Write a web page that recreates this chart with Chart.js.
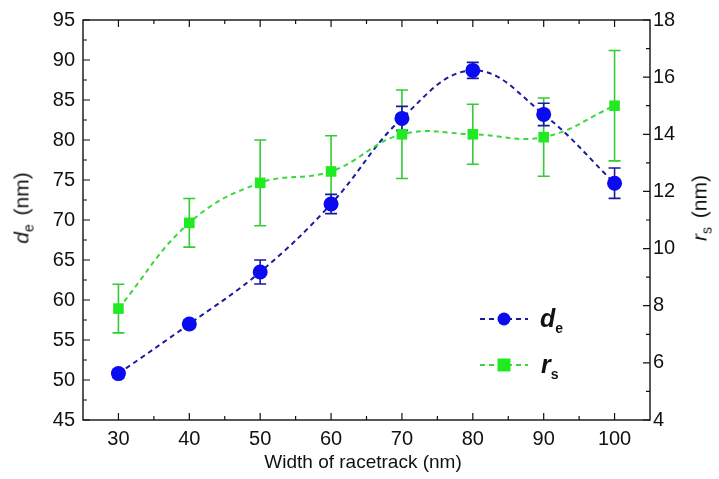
<!DOCTYPE html>
<html>
<head>
<meta charset="utf-8">
<script src="https://cdn.jsdelivr.net/npm/chart.js@4.4.1/dist/chart.umd.min.js"></script>
<style>
  body { margin: 0; background: #fff; }
  #wrap { position: relative; width: 719px; height: 479px; font-family: "Liberation Sans", Arial, sans-serif; color: #111; }
  .lbl { position: absolute; white-space: nowrap; font-size: 19px; line-height: 19px; }
  .rot { transform: translate(-50%, -50%) rotate(-90deg); font-size: 21px; line-height: 21px; }
  .leg { position: absolute; font-weight: bold; font-style: italic; font-size: 25px; line-height: 25px; }
  .leg sub { font-style: normal; font-size: 14px; vertical-align: -6px; }
  .ttl sub { font-size: 14px; vertical-align: -5px; margin-right: 3px; }
</style>
</head>
<body>
<div id="wrap">
  <canvas id="chart" width="719" height="479"></canvas>
  <div class="lbl" style="left:363px; top:452px; transform: translateX(-50%);">Width of racetrack (nm)</div>
  <div class="lbl rot ttl" style="left:25px; top:208px;"><i>d</i><sub>e</sub> (nm)</div>
  <div class="lbl rot ttl" style="left:703px; top:208px;"><i>r</i><sub>s</sub> (nm)</div>
  <div class="leg" style="left:540px; top:306px;">d<sub>e</sub></div>
  <div class="leg" style="left:541px; top:352px;">r<sub>s</sub></div>
</div>
<script>
// widths (nm)
const widths = [30, 40, 50, 60, 70, 80, 90, 100];
// d_e (left axis) with error
const deValues = [50.8, 57.0, 63.5, 72.0, 82.7, 88.7, 83.2, 74.6];
const deErrors = [0.5, 0.5, 1.5, 1.2, 1.5, 1.0, 1.4, 1.9];
// r_s (right axis) with error
const rsValues = [7.9, 10.9, 12.3, 12.7, 14.0, 14.0, 13.9, 15.0];
const rsErrors = [0.85, 0.85, 1.5, 1.25, 1.55, 1.05, 1.37, 1.93];

const xTicks = [30, 40, 50, 60, 70, 80, 90, 100];
const xMinorTicks = [35, 45, 55, 65, 75, 85, 95];
const leftTicks = [45, 50, 55, 60, 65, 70, 75, 80, 85, 90, 95];
const leftMinorTicks = [47.5, 52.5, 57.5, 62.5, 67.5, 72.5, 77.5, 82.5, 87.5, 92.5];
const rightTicks = [4, 6, 8, 10, 12, 14, 16, 18];
const rightMinorTicks = [5, 7, 9, 11, 13, 15, 17];

const blue = '#0b0bf2';
const blueLine = '#1a1a9e';
const green = '#22ea22';
const greenLine = '#3ad83a';
const greenErr = '#33cc33';

const errorBars = {
  id: 'errorBars',
  beforeDatasetsDraw(chart) {
    const ctx = chart.ctx;
    const x = chart.scales.x;
    const sets = [
      { vals: rsValues, errs: rsErrors, scale: chart.scales.yR, color: greenErr },
      { vals: deValues, errs: deErrors, scale: chart.scales.yL, color: blueLine }
    ];
    ctx.save();
    ctx.lineWidth = 1.6;
    sets.forEach(s => {
      ctx.strokeStyle = s.color;
      widths.forEach((w, i) => {
        const px = x.getPixelForValue(w);
        const top = s.scale.getPixelForValue(s.vals[i] + s.errs[i]);
        const bot = s.scale.getPixelForValue(s.vals[i] - s.errs[i]);
        ctx.beginPath();
        ctx.moveTo(px, top); ctx.lineTo(px, bot);
        ctx.moveTo(px - 6, top); ctx.lineTo(px + 6, top);
        ctx.moveTo(px - 6, bot); ctx.lineTo(px + 6, bot);
        ctx.stroke();
      });
    });
    ctx.restore();
  }
};

const frameTicks = {
  id: 'frameTicks',
  afterDraw(chart) {
    const ctx = chart.ctx;
    const a = chart.chartArea;
    const x = chart.scales.x, yL = chart.scales.yL, yR = chart.scales.yR;
    ctx.save();
    ctx.strokeStyle = '#111';
    ctx.lineWidth = 1.4;
    ctx.strokeRect(a.left, a.top, a.right - a.left, a.bottom - a.top);
    ctx.lineWidth = 1.2;
    ctx.beginPath();
    const tx = (v, len) => {
      const p = x.getPixelForValue(v);
      ctx.moveTo(p, a.bottom); ctx.lineTo(p, a.bottom - len);
      ctx.moveTo(p, a.top); ctx.lineTo(p, a.top + len);
    };
    xTicks.forEach(v => tx(v, 7));
    xMinorTicks.forEach(v => tx(v, 4));
    const tl = (v, len) => {
      const p = yL.getPixelForValue(v);
      ctx.moveTo(a.left, p); ctx.lineTo(a.left + len, p);
    };
    leftTicks.forEach(v => tl(v, 7));
    leftMinorTicks.forEach(v => tl(v, 4));
    const tr = (v, len) => {
      const p = yR.getPixelForValue(v);
      ctx.moveTo(a.right, p); ctx.lineTo(a.right - len, p);
    };
    rightTicks.forEach(v => tr(v, 7));
    rightMinorTicks.forEach(v => tr(v, 4));
    ctx.stroke();

    // legend samples
    const legend = [
      { y: 319, color: blueLine, fill: blue, shape: 'circle' },
      { y: 365, color: greenLine, fill: green, shape: 'rect' }
    ];
    legend.forEach(l => {
      ctx.strokeStyle = l.color;
      ctx.lineWidth = 2;
      ctx.setLineDash([5, 4]);
      ctx.beginPath();
      ctx.moveTo(480, l.y); ctx.lineTo(528, l.y);
      ctx.stroke();
      ctx.setLineDash([]);
      ctx.fillStyle = l.fill;
      if (l.shape === 'circle') {
        ctx.beginPath(); ctx.arc(504, l.y, 6.5, 0, Math.PI * 2); ctx.fill();
      } else {
        ctx.fillRect(497.5, l.y - 6.5, 13, 13);
      }
    });
    ctx.restore();
  }
};

const font = { family: '"Liberation Sans", Arial, sans-serif', size: 20 };

new Chart(document.getElementById('chart'), {
  type: 'line',
  data: {
    datasets: [
      {
        label: 'rs',
        data: widths.map((w, i) => ({ x: w, y: rsValues[i] })),
        yAxisID: 'yR',
        borderColor: greenLine,
        borderWidth: 2,
        borderDash: [5, 4],
        tension: 0.4,
        pointStyle: 'rect',
        pointRadius: 7.5,
        pointBackgroundColor: green,
        pointBorderColor: green,
        pointBorderWidth: 0
      },
      {
        label: 'de',
        data: widths.map((w, i) => ({ x: w, y: deValues[i] })),
        yAxisID: 'yL',
        borderColor: blueLine,
        borderWidth: 2,
        borderDash: [5, 4],
        tension: 0.4,
        pointStyle: 'circle',
        pointRadius: 7.5,
        pointBackgroundColor: blue,
        pointBorderColor: blue,
        pointBorderWidth: 0
      }
    ]
  },
  options: {
    responsive: false,
    animation: false,
    layout: { padding: { top: 18, left: 0, right: 0, bottom: 0 } },
    plugins: { legend: { display: false }, tooltip: { enabled: false } },
    scales: {
      x: {
        type: 'linear',
        min: 25, max: 105,
        afterBuildTicks: s => { s.ticks = xTicks.map(v => ({ value: v })); },
        afterFit: s => { s.height = 59; },
        grid: { display: false, tickLength: 0 },
        border: { display: false },
        ticks: { font, color: '#111', padding: 7 }
      },
      yL: {
        position: 'left',
        min: 45, max: 95,
        afterBuildTicks: s => { s.ticks = leftTicks.map(v => ({ value: v })); },
        afterFit: s => { s.width = 83; },
        grid: { display: false, tickLength: 0 },
        border: { display: false },
        ticks: { font, color: '#111', padding: 8 }
      },
      yR: {
        position: 'right',
        min: 4, max: 18,
        afterBuildTicks: s => { s.ticks = rightTicks.map(v => ({ value: v })); },
        afterFit: s => { s.width = 69; },
        grid: { display: false, tickLength: 0 },
        border: { display: false },
        ticks: { font, color: '#111', padding: 3 }
      }
    }
  },
  plugins: [errorBars, frameTicks]
});
</script>
</body>
</html>
